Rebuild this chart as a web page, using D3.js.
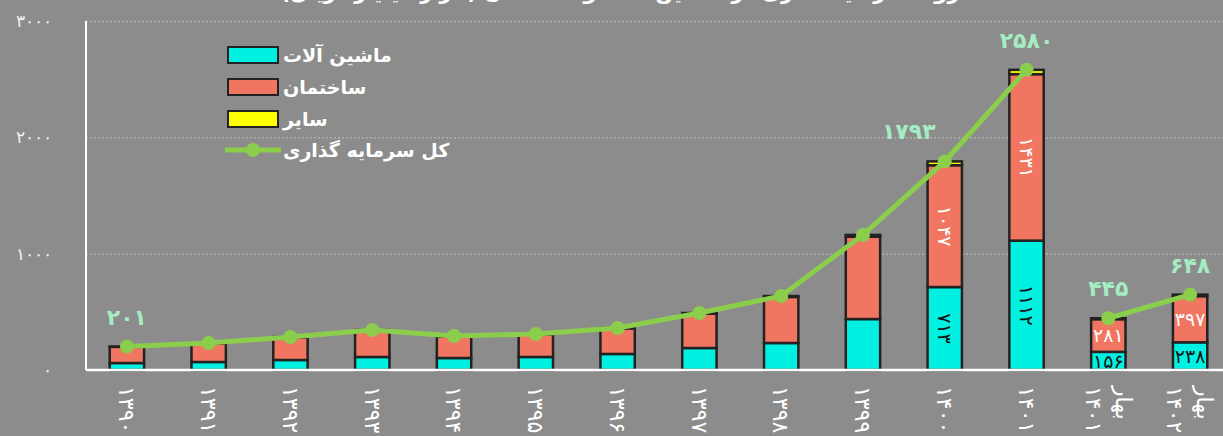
<!DOCTYPE html>
<html>
<head>
<meta charset="utf-8">
<script src="https://cdn.jsdelivr.net/npm/d3@7"></script>
<style>
  body { margin: 0; background: #8c8c8c; }
  svg { display: block; font-family: "DejaVu Sans", sans-serif; }
</style>
</head>
<body>
<div id="chart"></div>
<script>
// data
var categories = ['۱۳۹۰', '۱۳۹۱', '۱۳۹۲', '۱۳۹۳', '۱۳۹۴', '۱۳۹۵', '۱۳۹۶', '۱۳۹۷', '۱۳۹۸', '۱۳۹۹', '۱۴۰۰', '۱۴۰۱', 'بهار|۱۴۰۱', 'بهار|۱۴۰۲']
var machinery = [60, 69, 86, 112, 103, 112, 138, 189, 232, 438, 713, 1112, 156, 238]
var construction = [139, 160, 195, 228, 186, 195, 220, 296, 396, 708, 1047, 1431, 281, 397]
var other = [2, 3, 3, 4, 3, 3, 3, 5, 8, 15, 33, 37, 8, 13]
var total = [201, 232, 284, 344, 292, 310, 361, 490, 636, 1161, 1793, 2580, 445, 648]
var lineGroups = [[0, 11], [12, 13]] // annual series and spring series are drawn apart
var totalShown = [0, 10, 11, 12, 13]
var segLabelIdx = [10, 11, 12, 13]
var yTicks = [0, 1000, 2000, 3000]
var seriesNames = ['ماشین آلات', 'ساختمان', 'سایر']
var lineName = 'کل سرمایه گذاری'
var title = 'روند سرمایه گذاری در ماشین آلات و ساختمان (هزار میلیارد ریال)'

var colors = ['#00f0e1', '#f07662', '#ffff00']
var lineColor = '#8bce4b'

function fa(n) {
    return String(n).replace(/\d/g, function (c) { return '۰۱۲۳۴۵۶۷۸۹'[+c]; });
}

var W = 1223, H = 436
var svg = d3.select('#chart').append('svg').attr('width', W).attr('height', H)

var x = d3.scaleBand().domain(categories).range([86, 1231]).paddingInner(0.58).paddingOuter(0.29)
var y = d3.scaleLinear().domain([0, 3000]).range([370, 21])
var cx = function (i) { return x(categories[i]) + x.bandwidth() / 2 }

// title (mostly cut off at the top, as in the source)
svg.append('text').attr('x', 620).attr('y', -1).attr('text-anchor', 'middle')
    .attr('fill', '#fff').attr('font-size', 21).attr('font-weight', 'bold').text(title)

// grid
svg.append('g').attr('transform', 'translate(86,0)')
    .call(d3.axisLeft(y).tickValues(yTicks.slice(1)).tickSize(-(W - 86)).tickFormat(''))
    .call(function (g) {
        g.select('.domain').remove()
        g.selectAll('line').attr('stroke', '#b0b0b0').attr('stroke-width', 1.5).attr('stroke-dasharray', '2,2')
    })

// y axis labels
svg.append('g').attr('transform', 'translate(52,0)')
    .call(d3.axisLeft(y).tickValues(yTicks).tickSize(0).tickFormat(fa))
    .call(function (g) {
        g.select('.domain').remove()
        g.selectAll('text').attr('fill', '#f2f2f2').attr('font-size', 17).attr('x', 0).attr('text-anchor', 'end')
    })

// stacked bars
var rows = categories.map(function (c, i) { return { cat: c, m: machinery[i], c: construction[i], o: other[i] } })
var stacked = d3.stack().keys(['m', 'c', 'o'])(rows)

svg.append('g').selectAll('g').data(stacked).enter().append('g')
    .attr('fill', function (d, i) { return colors[i] })
    .selectAll('rect').data(function (d) { return d }).enter().append('rect')
    .attr('x', function (d) { return x(d.data.cat) })
    .attr('width', x.bandwidth())
    .attr('y', function (d) { return y(d[1]) })
    .attr('height', function (d) { return y(d[0]) - y(d[1]) })
    .attr('stroke', '#222').attr('stroke-width', 2.5)

// axis lines
svg.append('line').attr('x1', 86).attr('x2', 86).attr('y1', 21).attr('y2', 370)
    .attr('stroke', '#fff').attr('stroke-width', 2)
svg.append('g').attr('transform', 'translate(0,370)')
    .call(d3.axisBottom(x).tickSize(0).tickFormat(''))
    .call(function (g) {
        g.select('.domain').attr('stroke', '#fff').attr('stroke-width', 2.5).attr('d', 'M86,0H' + W)
    })

// x labels rotated
var xl = svg.append('g').selectAll('g').data(categories).enter().append('g')
    .attr('transform', function (d, i) { return 'translate(' + cx(i) + ',386) rotate(90)' })
xl.each(function (d) {
    var parts = d.split('|')
    var g = d3.select(this)
    parts.forEach(function (p, j) {
        var off = parts.length === 1 ? 0 : (j === 0 ? -15 : 15)
        g.append('text').attr('x', 0).attr('y', off).attr('dy', '0.35em')
            .attr('fill', '#fff').attr('font-size', 22).text(p)
    })
})

// segment labels
segLabelIdx.forEach(function (i) {
    var rot = i < 12
    var segs = [[0, machinery[i], '#111'], [machinery[i], machinery[i] + construction[i], '#fff']]
    segs.forEach(function (s, k) {
        var cy = (y(s[0]) + y(s[1])) / 2
        var val = k === 0 ? machinery[i] : construction[i]
        svg.append('text')
            .attr('transform', 'translate(' + cx(i) + ',' + cy + ')' + (rot ? ' rotate(90)' : ''))
            .attr('text-anchor', 'middle').attr('dy', '0.35em')
            .attr('fill', s[2]).attr('font-size', 19).text(fa(val))
    })
})

// total line, in two pieces
var line = d3.line()
    .x(function (d) { return cx(d) })
    .y(function (d) { return y(total[d]) })
lineGroups.forEach(function (gr) {
    svg.append('path').datum(d3.range(gr[0], gr[1] + 1)).attr('d', line).attr('fill', 'none')
        .attr('stroke', lineColor).attr('stroke-width', 5)
})
svg.append('g').selectAll('circle').data(total).enter().append('circle')
    .attr('cx', function (d, i) { return cx(i) })
    .attr('cy', function (d) { return y(d) })
    .attr('r', 7).attr('fill', lineColor)

// total labels
totalShown.forEach(function (i) {
    var dx = i === 10 ? -36 : 0
    svg.append('text')
        .attr('x', cx(i) + dx)
        .attr('y', y(total[i]) - 22)
        .attr('text-anchor', 'middle')
        .attr('fill', '#a6ecc2').attr('font-size', 22).attr('font-weight', 'bold')
        .text(fa(total[i]))
})

// legend
var lg = svg.append('g')
seriesNames.forEach(function (n, i) {
    var ly = 47 + i * 32
    lg.append('rect').attr('x', 228).attr('y', ly).attr('width', 50).attr('height', 16)
        .attr('fill', colors[i]).attr('stroke', '#222').attr('stroke-width', 2)
    lg.append('text').attr('x', 283).attr('y', ly + 8).attr('dy', '0.35em')
        .attr('fill', '#fff').attr('font-size', 19).attr('font-weight', 'bold').text(n)
})
lg.append('line').attr('x1', 225).attr('x2', 281).attr('y1', 150).attr('y2', 150)
    .attr('stroke', lineColor).attr('stroke-width', 5)
lg.append('circle').attr('cx', 253).attr('cy', 150).attr('r', 7).attr('fill', lineColor)
lg.append('text').attr('x', 283).attr('y', 150).attr('dy', '0.35em')
    .attr('fill', '#fff').attr('font-size', 19).attr('font-weight', 'bold').text(lineName)
</script>
</body>
</html>
